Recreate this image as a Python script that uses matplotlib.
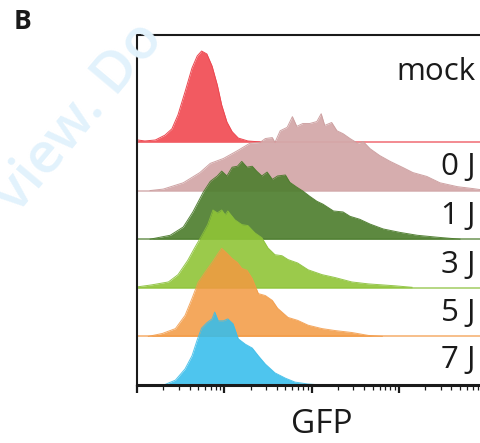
import numpy as np
import matplotlib; matplotlib.use("Agg")
import matplotlib.pyplot as plt
import matplotlib.transforms as mtransforms
from matplotlib.ticker import LogLocator, NullFormatter

plt.rcParams["font.family"] = ["Open Sans", "DejaVu Sans"]

# log10(GFP) sample points and histogram heights (1.0 = one lane offset)
mock_x = [1.01, 1.09, 1.21, 1.32, 1.40, 1.47, 1.55, 1.63, 1.69, 1.74, 1.80, 1.86, 1.92,
          1.97, 2.03, 2.09, 2.16, 2.27, 2.41]
mock_h = [0.04, 0.02, 0.04, 0.14, 0.27, 0.56, 1.03, 1.52, 1.77, 1.87, 1.81, 1.56, 1.17,
          0.76, 0.41, 0.21, 0.08, 0.02, 0.0]

j0_x = [1.15, 1.30, 1.53, 1.72, 1.84, 1.99, 2.15, 2.29, 2.41, 2.47, 2.55, 2.58, 2.64, 2.72,
        2.78, 2.83, 2.90, 2.98, 3.06, 3.11, 3.15, 3.23, 3.29, 3.36, 3.44, 3.53, 3.59, 3.67,
        3.78, 3.90, 4.05, 4.16, 4.32, 4.47, 4.67, 4.85, 4.93]
j0_h = [0.0, 0.03, 0.16, 0.37, 0.56, 0.66, 0.82, 0.97, 0.99, 1.07, 1.09, 0.99, 1.23, 1.30,
        1.52, 1.32, 1.38, 1.38, 1.42, 1.58, 1.34, 1.40, 1.23, 1.17, 1.07, 0.97, 1.01, 0.86,
        0.72, 0.60, 0.47, 0.37, 0.29, 0.16, 0.08, 0.04, 0.02]

j1_x = [1.15, 1.38, 1.53, 1.64, 1.76, 1.84, 1.92, 1.97, 2.03, 2.09, 2.15, 2.20, 2.26, 2.32,
        2.37, 2.43, 2.49, 2.55, 2.61, 2.70, 2.75, 2.83, 2.90, 2.98, 3.06, 3.13, 3.25, 3.36,
        3.44, 3.55, 3.67, 3.82, 4.01, 4.21, 4.44, 4.70]
j1_h = [0.0, 0.08, 0.25, 0.56, 0.97, 1.19, 1.30, 1.40, 1.30, 1.48, 1.50, 1.60, 1.48, 1.50,
        1.40, 1.30, 1.38, 1.23, 1.30, 1.32, 1.17, 1.07, 0.99, 0.88, 0.78, 0.72, 0.58, 0.56,
        0.47, 0.41, 0.31, 0.21, 0.14, 0.08, 0.04, 0.0]

j3_x = [1.01, 1.17, 1.36, 1.47, 1.58, 1.66, 1.74, 1.81, 1.87, 1.92, 1.97, 2.01, 2.04, 2.12,
        2.20, 2.27, 2.35, 2.43, 2.50, 2.58, 2.66, 2.73, 2.84, 2.96, 3.12, 3.27, 3.46, 3.65,
        3.96, 4.15]
j3_h = [0.02, 0.06, 0.12, 0.27, 0.56, 0.82, 1.07, 1.30, 1.60, 1.54, 1.60, 1.50, 1.58, 1.40,
        1.30, 1.28, 1.13, 1.03, 0.82, 0.68, 0.66, 0.58, 0.51, 0.37, 0.27, 0.21, 0.12, 0.08,
        0.04, 0.01]

j5_x = [1.13, 1.29, 1.44, 1.55, 1.63, 1.70, 1.78, 1.86, 1.93, 1.97, 2.03, 2.09, 2.15, 2.20,
        2.26, 2.32, 2.39, 2.47, 2.55, 2.61, 2.73, 2.84, 2.96, 3.12, 3.27, 3.46, 3.65, 3.81]
j5_h = [0.0, 0.06, 0.16, 0.43, 0.78, 1.11, 1.32, 1.52, 1.71, 1.81, 1.71, 1.60, 1.52, 1.40,
        1.36, 1.19, 0.88, 0.84, 0.74, 0.58, 0.39, 0.33, 0.23, 0.16, 0.12, 0.08, 0.02, 0.0]

j7_x = [1.32, 1.44, 1.55, 1.63, 1.69, 1.74, 1.80, 1.86, 1.89, 1.93, 1.99, 2.04, 2.10, 2.16,
        2.24, 2.32, 2.39, 2.47, 2.58, 2.70, 2.81, 2.96, 3.12]
j7_h = [0.01, 0.10, 0.33, 0.60, 0.93, 1.17, 1.28, 1.36, 1.50, 1.32, 1.32, 1.36, 1.26, 0.95,
        0.84, 0.76, 0.60, 0.43, 0.25, 0.14, 0.06, 0.02, 0.0]

labels = ["mock", "0 J", "1 J", "3 J", "5 J", "7 J"]
offsets = [5, 4, 3, 2, 1, 0]
fills = ["#f25a61", "#d4a9aa", "#4f7f30", "#90c537", "#f39941", "#35bdec"]
edges = ["#ec4750", "#cc9e9f", "#4a7a2b", "#8ac03a", "#f29a47", "#3dbde8"]
alphas = [1.0, 0.95, 0.92, 0.9, 0.85, 0.88]
xs = [mock_x, j0_x, j1_x, j3_x, j5_x, j7_x]
hs = [mock_h, j0_h, j1_h, j3_h, j5_h, j7_h]

fig = plt.figure(figsize=(4.81, 4.43), dpi=100)
# faint watermark behind the panel
fig.text(0.165, 0.735, "view. Do", fontsize=41, fontweight="semibold", color="#e2f2fc",
         rotation=50, ha="center", va="center", zorder=0)
fig.text(0.029, 0.9345, "B", fontsize=19, fontweight="bold", color="#1a1a1a",
         ha="left", va="baseline")

ax = fig.add_axes([137 / 481, 1 - 385 / 443, 1 - 137 / 481, 350 / 443])
ax.set_facecolor("white")
ax.set_xscale("log")
xmax = 10 ** (1 + 344 / 87.3)
ax.set_xlim(10, xmax)
ax.set_ylim(0, 7.2)

for i in range(len(labels)):
    x = 10 ** np.array(xs[i])
    base = offsets[i]
    top = base + np.array(hs[i])
    z = 2 + i
    ax.axhline(base, color=edges[i], lw=1.1, alpha=0.8, zorder=z)
    ax.fill_between(x, base, top, color=fills[i], alpha=alphas[i], lw=0, zorder=z)
    ax.plot(x, top, color=edges[i], lw=0.7, alpha=alphas[i], zorder=z)

trans = mtransforms.blended_transform_factory(ax.transAxes, ax.transData)
label_y = [6.28, 4.31, 3.31, 2.31, 1.31, 0.35]
for i, lab in enumerate(labels):
    ax.text(0.985, label_y[i], lab, transform=trans, ha="right", va="baseline",
            fontsize=22.5, color="#1a1a1a", zorder=20)

ax.text((322 - 137) / 344, (385 - 433) / 350, "GFP", transform=ax.transAxes,
        ha="center", va="baseline", fontsize=24, color="#1a1a1a")

ax.set_yticks([])
ax.xaxis.set_major_locator(LogLocator(base=10))
ax.xaxis.set_minor_locator(LogLocator(base=10, subs=np.arange(2, 10)))
ax.xaxis.set_major_formatter(NullFormatter())
ax.xaxis.set_minor_formatter(NullFormatter())
ax.tick_params(axis="x", which="major", direction="out", length=6, width=1.6, color="#1a1a1a")
ax.tick_params(axis="x", which="minor", direction="out", length=3.5, width=0.9, color="#1a1a1a")
ax.spines["right"].set_visible(False)
ax.spines["bottom"].set_linewidth(2.2)
ax.spines["left"].set_linewidth(1.5)
ax.spines["top"].set_linewidth(1.5)
for s in ax.spines.values():
    s.set_color("#1a1a1a")
    s.set_zorder(30)

fig.savefig("out.png", dpi=100)
